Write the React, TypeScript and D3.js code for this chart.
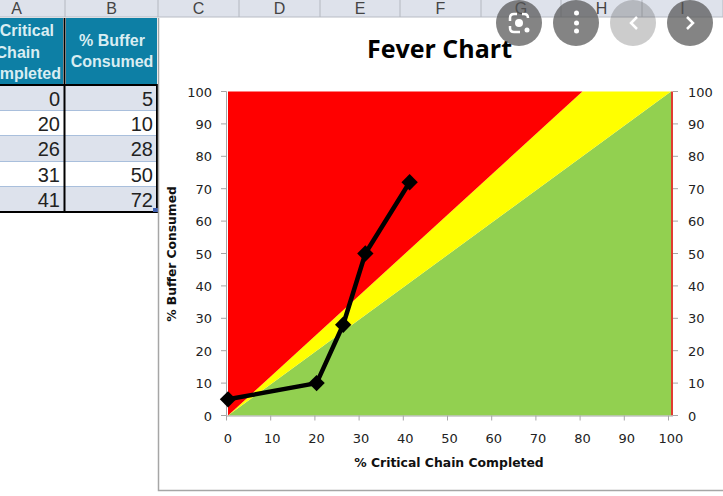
import React from "react";
import * as d3 from "d3";

const criticalChain = [0, 20, 26, 31, 41];
const bufferConsumed = [5, 10, 28, 50, 72];
const axisTicks = [0, 10, 20, 30, 40, 50, 60, 70, 80, 90, 100];
const columnLetters = ["A", "B", "C", "D", "E", "F", "G", "H", "I"];
const columnEdges = [0, 65, 158, 239, 320, 400, 481, 561, 642, 723];
const redBoundary = [[0, 0], [80, 100], [0, 100]];
const yellowBoundary = [[0, 0], [100, 100], [80, 100]];
const greenBoundary = [[0, 0], [100, 0], [100, 100]];
const lensButtons = [
  { cx: 519, icon: "lens", opacity: 0.72 },
  { cx: 576, icon: "dots", opacity: 0.72 },
  { cx: 633, icon: "prev", opacity: 0.3 },
  { cx: 690, icon: "next", opacity: 0.72 },
];

const sans = "'Liberation Sans', Arial, sans-serif";
const chartFont = "'DejaVu Sans', Verdana, sans-serif";
const titleFont = "'Open Sans', 'Noto Sans', sans-serif";

const xData = d3.scaleLinear().domain([0, 100]).range([228, 671]);
const xTick = d3.scaleLinear().domain([0, 100]).range([226.5, 668.5]);
const y = d3.scaleLinear().domain([0, 100]).range([415.5, 91.5]);

const polygon = d3.line<number[]>().x((d) => xData(d[0])).y((d) => y(d[1])).curve(d3.curveLinearClosed);
const trace = d3.line<number>().x((d) => xData(d)).y((_, i) => y(bufferConsumed[i]));
const diamond = d3.symbol().type(d3.symbolDiamond2).size(170)();

const rowY = [86, 111, 136, 162, 187, 212];

export default function App() {
  return (
    <svg width={723} height={496} style={{ position: "fixed", left: 0, top: 0, background: "#fff" }}>
      {/* column header strip */}
      <rect x={0} y={0} width={723} height={17} fill="#dee2eb" />
      <line x1={0} x2={723} y1={17} y2={17} stroke="#b8bcc4" />
      {columnLetters.map((c, i) => (
        <g key={c}>
          <line x1={columnEdges[i + 1]} x2={columnEdges[i + 1]} y1={0} y2={17} stroke="#b4b8c0" />
          <text x={(columnEdges[i] + columnEdges[i + 1]) / 2 + (i === 0 ? -16 : 0)} y={14} fontFamily={sans} fontSize={16} textAnchor="middle" fill="#444">{c}</text>
        </g>
      ))}

      {/* table header */}
      <rect x={0} y={18} width={63} height={67} fill="#0d7fa5" />
      <rect x={66} y={18} width={91} height={67} fill="#0d7fa5" />
      <g fontFamily={sans} fontWeight="bold" fontSize={16} fill="#d9edf2">
        <text x={54} y={36} textAnchor="end">Critical</text>
        <text x={40} y={58} textAnchor="end">Chain</text>
        <text x={61} y={79} textAnchor="end">mpleted</text>
        <text x={112} y={46} textAnchor="middle">% Buffer</text>
        <text x={112} y={67} textAnchor="middle">Consumed</text>
      </g>

      {/* table body */}
      {criticalChain.map((v, i) => (
        <g key={i}>
          <rect x={0} y={rowY[i]} width={157} height={rowY[i + 1] - rowY[i]} fill={i % 2 === 0 ? "#dde2ec" : "#fff"} />
          <line x1={0} x2={157} y1={rowY[i + 1] - 0.5} y2={rowY[i + 1] - 0.5} stroke="#a9bfdc" />
          <text x={60} y={rowY[i] + 20} fontFamily={sans} fontSize={20} textAnchor="end" fill="#222">{v}</text>
          <text x={153} y={rowY[i] + 20} fontFamily={sans} fontSize={20} textAnchor="end" fill="#222">{bufferConsumed[i]}</text>
        </g>
      ))}
      <g stroke="#000" strokeWidth={2} fill="none">
        <line x1={0} x2={158} y1={85} y2={85} />
        <line x1={0} x2={158} y1={212} y2={212} />
        <line x1={64.5} x2={64.5} y1={18} y2={213} />
        <line x1={157} x2={157} y1={85} y2={213} />
      </g>
      <rect x={153} y={208} width={5} height={4} fill="#3f5fb0" />

      {/* chart frame */}
      <path d="M158.5,18V490.5H723" fill="none" stroke="#a6a6a6" strokeWidth={1.5} />

      <text x={439.5} y={58} fontFamily={titleFont} fontWeight="bold" fontSize={25} textAnchor="middle" fill="#000">Fever Chart</text>

      {/* zones */}
      <path d={polygon(greenBoundary) ?? ""} fill="#92d050" />
      <path d={polygon(yellowBoundary) ?? ""} fill="#ffff00" />
      <path d={polygon(redBoundary) ?? ""} fill="#ff0000" />
      <line x1={xData(100) + 1} x2={xData(100) + 1} y1={y(100)} y2={y(0)} stroke="#e03c31" strokeWidth={2} />

      {/* axes */}
      <g stroke="#a6a6a6" strokeWidth={1} fill="none">
        <line x1={xTick(0)} x2={xData(100) + 2} y1={y(0) + 0.5} y2={y(0) + 0.5} />
        <line x1={226.5} x2={226.5} y1={y(100)} y2={y(0)} />
        {axisTicks.map((t) => (
          <g key={t}>
            <line x1={xTick(t)} x2={xTick(t)} y1={y(0)} y2={y(0) + 5} />
            <line x1={221} x2={226.5} y1={y(t)} y2={y(t)} />
            <line x1={673} x2={678} y1={y(t)} y2={y(t)} />
          </g>
        ))}
      </g>
      <g fontFamily={chartFont} fontSize={13} fill="#222">
        {axisTicks.map((t) => (
          <g key={t}>
            <text x={xData(t)} y={443} textAnchor="middle">{t}</text>
            <text x={212} y={y(t) + 5} textAnchor="end">{t}</text>
            <text x={688} y={y(t) + 5} textAnchor="start">{t}</text>
          </g>
        ))}
      </g>
      <text x={449} y={467} fontFamily={chartFont} fontWeight="bold" fontSize={12.4} textAnchor="middle" fill="#111">% Critical Chain Completed</text>
      <text transform="translate(176,254) rotate(-90)" fontFamily={chartFont} fontWeight="bold" fontSize={12.3} textAnchor="middle" fill="#111">% Buffer Consumed</text>

      {/* trace */}
      <path d={trace(criticalChain) ?? ""} fill="none" stroke="#000" strokeWidth={4.5} strokeLinejoin="round" />
      {criticalChain.map((v, i) => (
        <path key={i} d={diamond ?? ""} transform={`translate(${xData(v)},${y(bufferConsumed[i])})`} fill="#000" />
      ))}

      {/* image-viewer overlay buttons */}
      {lensButtons.map((b) => (
        <g key={b.cx}>
          <circle cx={b.cx} cy={23} r={23} fill="#555" opacity={b.opacity} />
          {b.icon === "lens" && (
            <g fill="none" stroke="#fff" strokeWidth={2.5}>
              <path d="M510,21V18Q510,14 514,14H517M522,14H524Q528,14 528,18M510,26V28Q510,32 514,32H520" />
              <circle cx={519} cy={23} r={4} fill="#fff" stroke="none" />
              <circle cx={527} cy={30} r={2.5} fill="#fff" stroke="none" />
            </g>
          )}
          {b.icon === "dots" && [13, 23, 31].map((cy) => <circle key={cy} cx={576.5} cy={cy} r={2.5} fill="#fff" />)}
          {b.icon === "prev" && <path d="M637,17L631,23L637,29" fill="none" stroke="#fff" strokeWidth={2.5} />}
          {b.icon === "next" && <path d="M687,17L693,23L687,29" fill="none" stroke="#fff" strokeWidth={2.5} />}
        </g>
      ))}
    </svg>
  );
}
